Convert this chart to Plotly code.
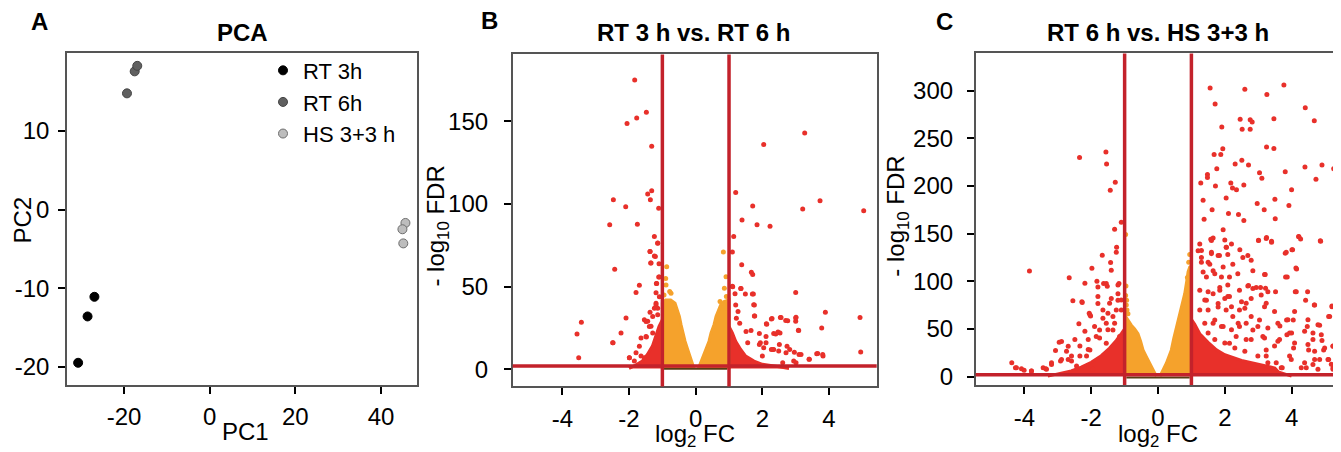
import plotly.graph_objects as go

# ---------------- Panel A: PCA ----------------
pca_groups = ["RT 3h", "RT 6h", "HS 3+3 h"]
pca_pc1 = {
    "RT 3h": [-30.7, -28.5, -26.9],
    "RT 6h": [-19.3, -17.5, -16.9],
    "HS 3+3 h": [45.7, 45.0, 45.2],
}
pca_pc2 = {
    "RT 3h": [-19.5, -13.6, -11.1],
    "RT 6h": [14.8, 17.6, 18.3],
    "HS 3+3 h": [-1.7, -2.5, -4.3],
}
pca_fill = {"RT 3h": "#000000", "RT 6h": "#606060", "HS 3+3 h": "#bdbdbd"}
pca_edge = {"RT 3h": "#000000", "RT 6h": "#444444", "HS 3+3 h": "#6e6e6e"}

pca_xticks = [-20, 0, 20, 40]
pca_xticktext = ["-20", "0", "20", "40"]
pca_yticks = [-20, -10, 0, 10]
pca_yticktext = ["-20", "-10", "0", "10"]

# ---------------- Panel B: RT 3 h vs RT 6 h ----------------
b_red_x = [-1.83, -1.48, -1.77, -2.06, -1.32, 3.27, 2.04, 1.20, -1.32, -1.44, -1.36, -2.47,
           -2.10, -1.11, -2.58, -1.75, 1.71, 3.21, 3.73, 5.04, 1.39, 1.84, 2.23, -1.24, 1.14,
           -1.14, -1.37, -1.24, 1.10, -1.35, -1.10, -2.43, 1.38, -1.11, -1.69, -1.18, -1.79,
           1.67, 1.71, 1.10, 1.35, 1.18, 1.49, 1.70, 1.74, 1.77, 3.00, 3.89, 4.93, 4.95, 3.78,
           3.82, 3.63, 3.40, 3.08, 3.00, 3.00, 2.76, 2.54, 2.27, 2.12, 2.53, 2.40, 2.34, 2.49,
           2.74, 2.82, 2.94, 3.10, 2.27, 2.04, 1.94, -3.43, -3.56, -3.51, -2.48, -2.24, -2.09,
           -1.99, -1.54, -1.44, -1.34, -1.48, -1.64, -1.24, -1.19, -1.14, -1.64, -1.84,
           -1.14, -1.37, -1.21, -1.34, -1.09, -1.17, -1.19, -1.09, -1.19, -1.14, -1.37, -1.49,
           -1.29, -1.39, -1.49, -1.29, -1.69, -1.79, -1.99, -1.54, -2.49,
           1.11, 1.36, 1.73, 1.76, 1.20, 1.27, 1.22, 1.32, 1.76, 2.13, 2.29, 2.56, 3.01, 3.09,
           2.70, 2.34, 2.47, 1.51, 1.66, 1.91, 2.11, 1.56, 1.91, 2.11, 2.31, 2.51, 2.71, 2.96,
           3.16, 3.41, 3.66, 3.81, 2.00, 2.61, 3.01, 1.71]
b_red_y = [175, 155.5, 152, 148.7, 135, 143, 136, 107, 108, 106, 102.6, 102.6,
           98.4, 97.4, 87.4, 87.8, 98.8, 97, 102, 96, 90.4, 87.4, 86.6, 80.4, 80.4,
           76.4, 71.3, 68.5, 70.9, 64.3, 63.9, 60.5, 63.3, 55.9, 50.9, 51.9, 46.5,
           58.7, 57.3, 50.3, 48.9, 45.7, 45.5, 45.5, 39.1, 32.3, 46.5, 34.5, 31.3, 10.4, 25,
           8, 9.4, 6, 23.6, 31, 29, 29.3, 31.3, 30.5, 27.5, 22, 21.4, 12, 11,
           14, 12, 5, 9, 12, 13, 16, 28.5, 21.4, 7, 16, 22, 31,
           7, 30, 29, 26, 19.6, 19, 37, 40, 33, 8, 5,
           76.2, 71.2, 68.2, 64.3, 55.9, 51.9, 46.3, 43.9, 38.9, 37, 34.5, 28.9,
           31.9, 25.9, 19.9, 21.9, 14, 10, 7, 7, 16,
           49.9, 48.9, 45.5, 38.9, 38.9, 34.9, 30.9, 27.9, 32.3, 27.3, 30.7, 31.3, 31.5, 23.5,
           29.5, 21.6, 22.6, 22.9, 23.5, 21.6, 19.9, 16, 15, 16, 12, 15, 10, 10.3,
           9, 6, 9.5, 9, 8, 4, 4, 4]

b_org_x = [-0.87, -0.89, -0.74, -0.78, 0.83, 0.91, 0.86, 0.73, 0.92, 0.95, -0.95, -0.90]
b_org_y = [62, 51, 46, 47, 71, 56, 49, 41, 44, 37, 45, 55]

# dense cloud outlines
b_red_left_x = [-1.0, -1.0, -1.1, -1.2, -1.3, -1.45, -1.6, -1.8, -2.0]
b_red_left_y = [0.5, 30, 26, 20, 14, 9, 5, 2.5, 0.5]
b_red_right_x = [1.0, 1.0, 1.1, 1.2, 1.35, 1.5, 1.75, 2.0, 2.5, 2.8]
b_red_right_y = [0.5, 26, 22, 17, 12, 8, 5, 3, 1.5, 0.5]
b_org_left_x = [-1.0, -1.0, -0.9, -0.75, -0.62, -0.55, -0.49, -0.44, -0.39, -0.32, -0.24, -0.16, -0.09, -0.05]
b_org_left_y = [0.5, 40, 42, 42, 40, 36, 32, 27, 22, 17, 12, 7, 3, 0.5]
b_org_right_x = [0.08, 0.13, 0.22, 0.31, 0.40, 0.46, 0.55, 0.61, 0.68, 0.75, 0.85, 1.0, 1.0]
b_org_right_y = [0.5, 3, 7, 12, 17, 22, 27, 32, 36, 39, 41, 42, 0.5]
b_ns_x = [-0.95, -0.5, 0.0, 0.5, 0.95]
b_ns_y = [0.3, 0.3, 0.3, 0.3, 0.3]

b_xticks = [-4, -2, 0, 2, 4]
b_xticktext = ["-4", "-2", "0", "2", "4"]
b_yticks = [0, 50, 100, 150]

# ---------------- Panel C: RT 6 h vs HS 3+3 h ----------------
c_red_x = [1.56, 2.60, 3.77, 3.26, 1.71, 4.41, 4.68, 2.46, 2.76, 2.82, 2.52, 2.76, 3.47, 1.91,
           1.94, 1.68, 1.88, 3.25, 3.47, 2.51, 2.31, 2.71, 1.76, 1.48, 1.48, 3.04, 3.11, 3.81,
           4.40, 4.91, 5.26, 4.73, 1.28, 1.72, 2.18, 2.23, 2.35, 2.57, 4.00, 2.04, 1.35, 2.97,
           3.50, 3.92, 3.18, 1.62, 2.11, 2.41, 2.57, 3.51, 1.38, 1.95, 1.58, 2.04, 3.24, 3.40,
           4.22, 4.86, 4.03, 3.01, 3.81, 4.13, 3.82, 3.21, 2.71, 2.94, 3.22, 3.52, 4.11, 4.48,
           4.42, 4.68, 5.21, 5.14, 3.65, 3.85, 4.05, 4.47, 4.84, 4.64, 4.00, 3.86, 4.64, 4.91,
           5.24, 4.51, 4.06, 4.69, 4.96, 4.84, 5.11, 4.64, 5.24, 4.44, 3.54, 3.72, 3.24, 3.24,
           3.49, 2.84, 2.64, 2.44, 2.24, 2.09, 1.85, 1.65, 1.45, 1.65, 1.95, 2.24, 2.39, 2.14,
           1.55, 1.30, 1.20, 1.25, 1.60, 1.84, 2.54, 2.84, 3.09, 3.24, 2.64, 2.44, 2.14, 2.04,
           1.80, 1.45, 1.25, 1.25, 1.70, 1.95, 2.44, 3.04, 3.14, 2.64, 2.34, 2.14, 3.64, 3.94,
           1.65, 1.60, 2.00, 2.20, 2.05, 3.01, 3.25, 3.40, 4.21, 4.27, 4.87, 1.30, 1.60, 1.80,
           2.09, 2.45, 2.69, 2.79, 3.84, 4.01, 4.15, 3.19, 3.87, 1.50, 1.30, 1.35, 1.70, 1.90,
           2.09, 1.85, 2.69, 2.84, 3.07, 3.29, 4.14, 4.69, 5.21, 5.11, 1.50, 1.40, 1.50, 1.80,
           2.00, 2.20, 2.50, 2.60, 2.79, 3.19, 3.49, 3.89, 4.09, 4.49, 4.79, 4.39, 4.89, 3.94,
           3.59, 3.29, 2.99, 2.79, 2.40, 2.20, 1.90, 1.65, 2.79, 3.19, 3.59, 4.09, 4.49, 4.99,
           5.24, 4.69, 5.09, 5.19, 4.39, 3.99, 4.29, 4.79, 5.24, 3.69, 3.29, 2.99, 2.60, 2.30,
           2.00, 1.70, 1.50, 1.40,
           -1.56, -1.54, -2.35, -1.28, -1.43, -1.10, -1.30, -1.24, -1.25, -1.67, -1.42, -1.98,
           -3.85, -2.66, -2.19, -1.83, -1.63, -1.52, -1.17, -2.55, -2.27, -2.06, -2.02, -2.37,
           -2.96, -2.89, -3.07, -4.38, -4.27, -4.09, -3.79, -3.36, -3.19, -2.92, -2.69, -2.59,
           -2.34, -2.44, -2.14, -2.04, -2.09, -1.75, -1.85, -1.55, -1.35, -1.45, -1.20, -1.25,
           -1.65, -1.80, -1.35, -1.15, -1.55, -2.34, -2.74, -1.95,
           -1.40, -2.04, -2.28, -1.80, -1.80, -1.55, -1.50, -1.20, -1.20, -1.40, -1.65, -1.90,
           -2.19, -2.49, -2.69, -3.19, -3.44, -2.89, -2.59, -2.09, -1.75, -1.50, -1.30, -1.10,
           -1.10, -4.24, -4.01, -3.79, -3.34]
c_red_y = [302.8, 301.4, 306, 296, 286, 282, 268.5, 270, 269.5, 267, 259.5, 259.5, 270.6, 262,
           239, 233, 233, 241, 239.4, 227, 223, 222, 218, 212, 209, 214, 208, 215,
           220, 222, 218, 207, 203, 200, 203, 198, 196, 201, 196, 187.5, 185, 181.7,
           186, 179.6, 175, 175, 171, 170, 163.7, 165.7, 165, 154, 144, 135.6, 145, 142,
           146.7, 142.6, 133, 143, 129.4, 114, 104.5, 107, 95.5, 93.4, 92.7, 89, 89, 89,
           80, 75, 74, 63, 53, 59.5, 59.5, 52.6, 54, 45.7, 45.7, 44, 38.8, 38,
           32, 28, 30, 26.6, 28, 18, 18, 12.8, 9.3, 9.3, 14.5, 9.3, 21.5, 28,
           32, 49, 56, 70, 63, 84, 90.6, 87, 104.5, 111, 115, 118, 108, 104.5,
           118, 125, 132, 139, 129, 127, 125, 111, 85.5, 77, 77, 90.6, 84, 70,
           73, 80, 90.6, 70, 59.5, 52.6, 52.6, 59.5, 42, 38.8, 42, 35, 38.8, 21.5,
           145.4, 142.7, 143.3, 139, 135.7, 142.7, 146, 141, 147, 144.3, 142, 132.3, 130.5, 127,
           128, 133, 127, 122, 130.5, 133, 113, 107, 104.5, 120, 120, 109.7, 108, 104.5,
           96, 93.5, 95, 92.4, 93.5, 89, 89, 75, 73.4, 63, 89, 80.4, 70, 76.8,
           82, 73.4, 78.6, 71.7, 82, 73.4, 68.2, 59.6, 68.2, 59.6, 54.4, 47.5, 44, 45.7,
           56, 50.9, 52.6, 63, 56, 49.2, 52.6, 56, 38.8, 40.5, 37, 35.3, 33.6, 30,
           31.9, 18, 18, 12.9, 14.5, 18, 9.3, 7.6, 7.6, 9.3, 14.5, 21.5, 26.7, 30,
           35.3, 38.8, 45.7, 56,
           235.6, 223, 230, 204, 195.5, 162, 154.7, 135.6, 130.4, 127.3, 119.7, 113.8,
           110.7, 103.8, 97.9, 100, 97.6, 94.8, 97.6, 79.6, 77.8, 66.4, 63.7, 55.4,
           36, 36.7, 27.3, 14.5, 9.3, 8.3, 5.9, 8.3, 12.8, 16.3, 18, 16.3,
           21.5, 11, 21.5, 28, 38.8, 49, 42, 56, 63, 77, 80, 70,
           70, 84, 49, 42, 35, 32, 26.6, 7.6,
           111.5, 64.8, 78.6, 94, 76.8, 97.6, 66.5, 96, 87, 82, 61.3, 52.6,
           47.5, 38.8, 31.9, 14.5, 9.3, 18, 21.5, 28.4, 40.5, 49.2, 56, 70,
           80.4, 9.3, 6.6, 5.9, 7.6]

c_org_x = [-0.95, -0.93, -0.97, -0.96, -0.90, -0.97, -0.94, 0.92, 0.95, 0.88, 0.97]
c_org_y = [75, 70, 85, 95, 66, 149, 80, 120, 128, 104, 112]

c_red_left_x = [-1.0, -1.0, -1.1, -1.25, -1.45, -1.7, -2.0, -2.3, -2.6, -3.0, -3.3]
c_red_left_y = [0.5, 50, 45, 38, 30, 22, 15, 10, 6, 3, 0.5]
c_red_right_x = [1.0, 1.0, 1.1, 1.25, 1.5, 1.75, 2.0, 2.5, 3.0, 3.5, 3.6, 3.9, 4.0]
c_red_right_y = [0.5, 60, 55, 45, 36, 28, 23, 17, 13, 9, 5, 2, 0.5]
c_org_left_x = [-1.0, -1.0, -0.95, -0.88, -0.8, -0.7, -0.6, -0.52, -0.45, -0.35, -0.25, -0.17, -0.1, -0.05]
c_org_left_y = [0.5, 60, 62, 58, 54, 50, 45, 37, 28, 21, 14, 8, 4, 0.5]
c_org_right_x = [0.06, 0.1, 0.18, 0.25, 0.33, 0.4, 0.47, 0.55, 0.62, 0.7, 0.75, 0.8, 0.86, 0.9, 0.95,
                 1.0, 1.0]
c_org_right_y = [0.5, 4, 9, 14, 21, 28, 40, 52, 62, 73, 80, 87, 100, 110, 115, 116, 0.5]
c_ns_x = [-0.95, -0.5, 0.0, 0.5, 0.95]
c_ns_y = [-1.0, -1.0, -1.0, -1.0, -1.0]

c_xticks = [-4, -2, 0, 2, 4]
c_xticktext = ["-4", "-2", "0", "2", "4"]
c_yticks = [0, 50, 100, 150, 200, 250, 300]

FC_THRESH = 1
FDR_LINE = 2

# ---------------- styling ----------------
W, H = 1341, 452
PAGE_MARGIN = 8  # default body margin of the HTML page
FONT = "Arial, Liberation Sans, sans-serif"
RED = "#e8302a"
ORANGE = "#f5a22c"
LINE_RED = "#c3222b"


def px_x(p):
    return (p - PAGE_MARGIN) / W


def px_y(p):
    return 1 - (p - PAGE_MARGIN) / H


fig = go.Figure()

# Panel A
for g in pca_groups:
    fig.add_trace(go.Scatter(
        x=pca_pc1[g], y=pca_pc2[g], mode="markers", name=g,
        marker=dict(size=9, color=pca_fill[g], line=dict(width=1, color=pca_edge[g])),
        xaxis="x", yaxis="y", showlegend=True,
    ))


def volcano(xa, ya, red_polys, org_polys, red_x, red_y, org_x, org_y, ns_x, ns_y):
    for px, py in red_polys:
        fig.add_trace(go.Scatter(x=px, y=py, mode="lines", fill="toself", fillcolor=RED,
                                 line=dict(width=3, color=RED), hoverinfo="skip",
                                 xaxis=xa, yaxis=ya, showlegend=False))
    fig.add_trace(go.Scatter(x=red_x, y=red_y, mode="markers",
                             marker=dict(size=5, color=RED),
                             xaxis=xa, yaxis=ya, showlegend=False))
    for px, py in org_polys:
        fig.add_trace(go.Scatter(x=px, y=py, mode="lines", fill="toself", fillcolor=ORANGE,
                                 line=dict(width=3, color=ORANGE), hoverinfo="skip",
                                 xaxis=xa, yaxis=ya, showlegend=False))
    fig.add_trace(go.Scatter(x=org_x, y=org_y, mode="markers",
                             marker=dict(size=5, color=ORANGE),
                             xaxis=xa, yaxis=ya, showlegend=False))
    fig.add_trace(go.Scatter(x=ns_x, y=ns_y, mode="lines",
                             line=dict(width=2, color="#5a3c14"),
                             xaxis=xa, yaxis=ya, showlegend=False))


volcano("x2", "y2",
        [(b_red_left_x, b_red_left_y), (b_red_right_x, b_red_right_y)],
        [(b_org_left_x, b_org_left_y), (b_org_right_x, b_org_right_y)],
        b_red_x, b_red_y, b_org_x, b_org_y, b_ns_x, b_ns_y)
volcano("x3", "y3",
        [(c_red_left_x, c_red_left_y), (c_red_right_x, c_red_right_y)],
        [(c_org_left_x, c_org_left_y), (c_org_right_x, c_org_right_y)],
        c_red_x, c_red_y, c_org_x, c_org_y, c_ns_x, c_ns_y)

axis_common = dict(showline=True, mirror=True, linecolor="#555555", linewidth=1.5,
                   ticks="outside", ticklen=7, tickwidth=1.5, tickcolor="#000000",
                   showgrid=False, zeroline=False,
                   tickfont=dict(family=FONT, size=24, color="#000000"))

fig.update_layout(
    width=W, height=H,
    margin=dict(l=0, r=0, t=0, b=0),
    paper_bgcolor="white", plot_bgcolor="white",
    font=dict(family=FONT, color="#000000"),
    xaxis=dict(domain=[px_x(67), px_x(417)], range=[-33.3, 48.4], anchor="y",
               tickvals=pca_xticks, ticktext=pca_xticktext, ticklabelstandoff=3, **axis_common),
    yaxis=dict(domain=[px_y(389), px_y(53)], range=[-22.3, 20.0], anchor="x",
               tickvals=pca_yticks, ticktext=pca_yticktext, ticklabelstandoff=4, **axis_common),
    xaxis2=dict(domain=[px_x(512.7), px_x(876.7)], range=[-5.49, 5.43], anchor="y2",
                tickvals=b_xticks, ticktext=b_xticktext, ticklabelstandoff=3, **axis_common),
    yaxis2=dict(domain=[px_y(390.7), px_y(55)], range=[-10.4, 190.5], anchor="x2",
                tickvals=b_yticks, ticklabelstandoff=11, **axis_common),
    xaxis3=dict(domain=[px_x(975.7), px_x(1340)], range=[-5.46, 5.45], anchor="y3",
                tickvals=c_xticks, ticktext=c_xticktext, ticklabelstandoff=3, **axis_common),
    yaxis3=dict(domain=[px_y(389.3), px_y(54)], range=[-8.9, 339], anchor="x3",
                tickvals=c_yticks, ticklabelstandoff=9, **axis_common),
    legend=dict(x=px_x(263), y=px_y(50), xanchor="left", yanchor="top",
                bgcolor="rgba(0,0,0,0)", borderwidth=0,
                font=dict(family=FONT, size=22, color="#000000"),
                tracegroupgap=0, itemsizing="trace"),
)

# threshold lines
for xa, ya in (("x2", "y2"), ("x3", "y3")):
    for v in (-FC_THRESH, FC_THRESH):
        fig.add_shape(type="line", xref=xa, x0=v, x1=v, yref=f"{ya} domain", y0=0, y1=1,
                      line=dict(color=LINE_RED, width=3.5), layer="above")
    fig.add_shape(type="line", xref=f"{xa} domain", x0=0, x1=1, yref=ya, y0=FDR_LINE, y1=FDR_LINE,
                  line=dict(color=LINE_RED, width=3.5), layer="above")

# titles, panel letters, axis titles
texts = [
    ("<b>A</b>", 40, 22, 24, 0),
    ("<b>B</b>", 489, 21, 24, 0),
    ("<b>C</b>", 944, 22, 24, 0),
    ("<b>PCA</b>", 242, 33, 24, 0),
    ("<b>RT 3 h vs. RT 6 h</b>", 693, 33, 24, 0),
    ("<b>RT 6 h vs. HS 3+3 h</b>", 1158, 33, 24, 0),
    ("PC1", 245, 436, 24, 0),
    ("PC2", 23, 223, 24, -90),
    ("log<sub>2</sub> FC", 695, 440, 24, 0),
    ("- log<sub>10</sub> FDR", 438, 228, 24, -90),
    ("log<sub>2</sub> FC", 1158, 440, 24, 0),
    ("- log<sub>10</sub> FDR", 898, 218, 24, -90),
]
for t, x, y, s, ang in texts:
    fig.add_annotation(text=t, x=px_x(x), y=px_y(y), xref="paper", yref="paper",
                       xanchor="center", yanchor="middle", showarrow=False, textangle=ang,
                       font=dict(family=FONT, size=s, color="#000000"))

fig.write_html("out.html")
